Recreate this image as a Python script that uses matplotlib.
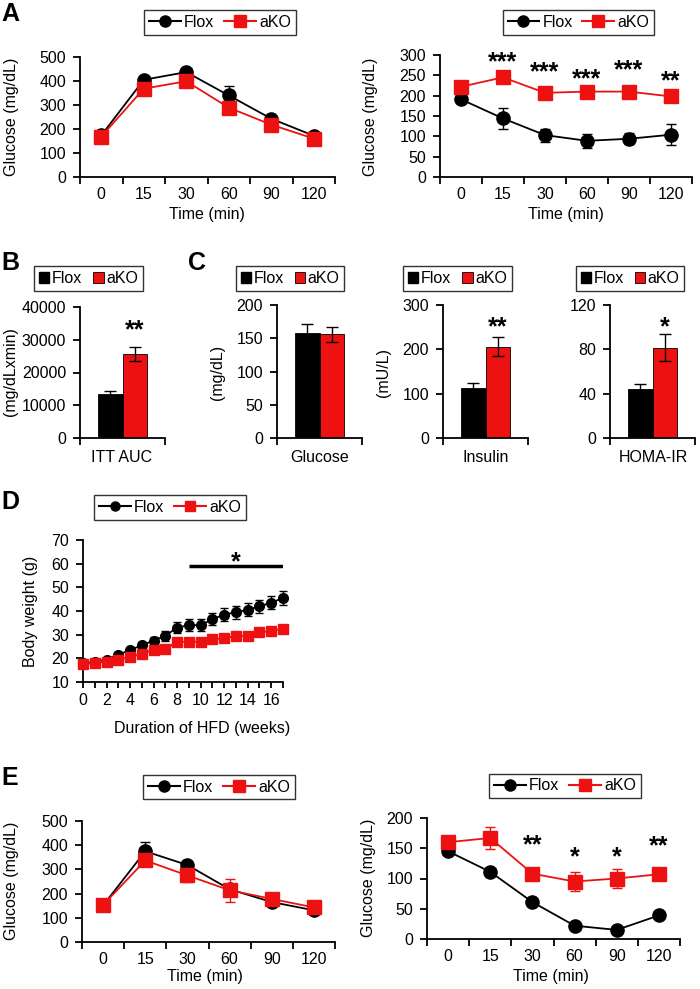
import numpy as np
import matplotlib
matplotlib.use("Agg")
import matplotlib.pyplot as plt
from matplotlib.lines import Line2D
from matplotlib.patches import Patch

plt.rcParams['font.family'] = ['Liberation Sans', 'DejaVu Sans']
plt.rcParams['font.size'] = 11.5

RED = '#ee1111'
BLACK = '#000000'

# ---------------- data ----------------
time_labels = ['0', '15', '30', '60', '90', '120']

# A left (GTT)
a_gtt_flox = [173, 405, 437, 340, 243, 172]
a_gtt_flox_err = [10, 10, 15, 38, 12, 10]
a_gtt_ako = [168, 368, 399, 289, 218, 160]
a_gtt_ako_err = [10, 15, 20, 25, 12, 10]

# A right (ITT)
a_itt_flox = [191, 144, 103, 89, 94, 104]
a_itt_flox_err = [8, 25, 16, 17, 14, 26]
a_itt_ako = [222, 245, 207, 210, 210, 198]
a_itt_ako_err = [8, 8, 8, 8, 8, 8]
a_itt_stars = ['', '***', '***', '***', '***', '**']
a_itt_star_y = [0, 296, 271, 253, 275, 248]

# B (ITT AUC)
b_labels = ['ITT AUC']
b_flox = [13400]
b_flox_err = [1000]
b_ako = [25700]
b_ako_err = [2200]
b_star = '**'
b_star_y = 34500

# C
c_labels = ['Glucose', 'Insulin', 'HOMA-IR']
c_flox = [158, 113, 44.2]
c_flox_err = [13, 10, 4.5]
c_ako = [156, 206, 81.5]
c_ako_err = [11, 21, 12]
c_stars = ['', '**', '*']
c_star_y = [0, 262, 105]
c_ylims = [200, 300, 120]
c_yticks = [[0, 50, 100, 150, 200], [0, 100, 200, 300], [0, 40, 80, 120]]
c_ylabels = ['(mg/dL)', '(mU/L)', '']

# D (body weight)
d_weeks = list(range(18))
d_flox = [18, 18.5, 19.5, 21.5, 23.5, 25.5, 27.5, 29.5, 33, 34, 34, 36.5,
          38.5, 39.5, 40.5, 42, 43.5, 45.5]
d_flox_err = [0.8, 0.8, 0.8, 1, 1, 1.2, 1.5, 2, 2.5, 2.5, 2.5, 2.5,
              2.8, 2.8, 2.8, 2.8, 2.8, 2.8]
d_ako = [17.5, 18, 18.5, 19.5, 20.5, 22, 23.5, 24, 27, 27, 27, 28,
         28.5, 29.5, 29.5, 31, 31.5, 32.5]
d_ako_err = [0.8] * 18
d_sig_span = [9, 17]
d_sig_y = 59
d_star_y = 63

# E left (GTT)
e_gtt_flox = [151, 375, 318, 218, 165, 131]
e_gtt_flox_err = [10, 40, 15, 20, 10, 8]
e_gtt_ako = [153, 337, 275, 214, 178, 143]
e_gtt_ako_err = [15, 15, 28, 48, 12, 10]

# E right (ITT)
e_itt_flox = [145, 111, 61, 22, 15, 39]
e_itt_flox_err = [3, 3, 3, 3, 3, 3]
e_itt_ako = [160, 167, 108, 95, 100, 107]
e_itt_ako_err = [8, 18, 8, 16, 16, 8]
e_itt_stars = ['', '', '**', '*', '*', '**']
e_itt_star_y = [0, 0, 164, 145, 145, 163]

# ---------------- layout helpers ----------------
W, H = 700, 989
fig = plt.figure(figsize=(W / 100, H / 100), dpi=100)


def ax_px(l, t, r, b):
    return fig.add_axes([l / W, 1 - b / H, (r - l) / W, (b - t) / H])


def style(ax):
    for s in ['top', 'right']:
        ax.spines[s].set_visible(False)
    for s in ['left', 'bottom']:
        ax.spines[s].set_linewidth(1.3)
    ax.tick_params(axis='y', direction='out', length=5, width=1.3, pad=5,
                   labelsize=11.5)
    ax.set_facecolor('none')


def cat_axis(ax, labels):
    n = len(labels)
    ax.set_xlim(-0.5, n - 0.5)
    ax.set_xticks(np.arange(-0.5, n, 1.0))
    ax.set_xticklabels([''] * (n + 1))
    ax.set_xticks(np.arange(n), minor=True)
    ax.set_xticklabels(labels, minor=True)
    ax.tick_params(axis='x', which='major', direction='out', length=5,
                   width=1.3)
    ax.tick_params(axis='x', which='minor', length=0, pad=7, labelsize=11.5)


def fig_text(x, y, s, **kw):
    fig.text(x / W, 1 - y / H, s, **kw)


def line_legend(cx, cy, ms=8):
    h = [Line2D([], [], color=BLACK, marker='o', ms=ms, lw=1.5),
         Line2D([], [], color=RED, marker='s', ms=ms, lw=1.5)]
    lg = fig.legend(h, ['Flox', 'aKO'], loc='center',
                    bbox_to_anchor=(cx / W, 1 - cy / H), ncol=2,
                    frameon=True, fancybox=False, fontsize=11.5,
                    handlelength=2.0, handletextpad=0.2, columnspacing=0.6,
                    borderpad=0.3, borderaxespad=0)
    lg.get_frame().set_edgecolor('black')
    lg.get_frame().set_linewidth(1.0)


def bar_legend(cx, cy):
    h = [Patch(facecolor=BLACK, edgecolor=BLACK),
         Patch(facecolor=RED, edgecolor=BLACK, linewidth=0.6)]
    lg = fig.legend(h, ['Flox', 'aKO'], loc='center',
                    bbox_to_anchor=(cx / W, 1 - cy / H), ncol=2,
                    frameon=True, fancybox=False, fontsize=11.5,
                    handlelength=0.65, handleheight=0.65,
                    handletextpad=0.15, columnspacing=0.7,
                    borderpad=0.3, borderaxespad=0)
    lg.get_frame().set_edgecolor('black')
    lg.get_frame().set_linewidth(1.0)


def star(ax, x, y, s):
    ax.annotate(s, (x, y), xytext=(0, -4), textcoords='offset points',
                ha='center', va='center', fontsize=18, fontweight='bold')


def line_panel(ax, flox, flox_err, ako, ako_err, ms=9.5):
    x = np.arange(len(flox))
    ax.errorbar(x, flox, yerr=flox_err, color=BLACK, marker='o', ms=ms,
                lw=1.3, capsize=3.5, elinewidth=1.0, capthick=1.0,
                clip_on=False, zorder=3)
    ax.errorbar(x, ako, yerr=ako_err, color=RED, marker='s', ms=ms,
                lw=1.3, capsize=3.5, elinewidth=1.0, capthick=1.0,
                clip_on=False, zorder=4)


# ---------------- Panel A left ----------------
ax = ax_px(80, 57, 335, 177)
style(ax)
line_panel(ax, a_gtt_flox, a_gtt_flox_err, a_gtt_ako, a_gtt_ako_err)
cat_axis(ax, time_labels)
ax.set_ylim(0, 500)
ax.set_yticks([0, 100, 200, 300, 400, 500])
fig_text(12, 117, 'Glucose (mg/dL)', rotation=90, ha='center', va='center')
fig_text(207, 215, 'Time (min)', ha='center', va='center')
line_legend(220, 22.5)
fig_text(1, 2, 'A', fontsize=18, fontweight='bold', ha='left', va='top')

# ---------------- Panel A right ----------------
ax = ax_px(440, 55, 692, 177)
style(ax)
line_panel(ax, a_itt_flox, a_itt_flox_err, a_itt_ako, a_itt_ako_err)
cat_axis(ax, time_labels)
ax.set_ylim(0, 300)
ax.set_yticks([0, 50, 100, 150, 200, 250, 300])
for i, (s, y) in enumerate(zip(a_itt_stars, a_itt_star_y)):
    if s:
        star(ax, i, y, s)
fig_text(370, 117, 'Glucose (mg/dL)', rotation=90, ha='center', va='center')
fig_text(566, 215, 'Time (min)', ha='center', va='center')
line_legend(578.5, 22.5)

# ---------------- Panel B ----------------
bw = 0.29
ax = ax_px(80, 307, 165, 438)
style(ax)
ax.bar([-bw / 2], b_flox, width=bw, color=BLACK, edgecolor=BLACK, lw=0.6)
ax.bar([bw / 2], b_ako, width=bw, color=RED, edgecolor=BLACK, lw=0.6)
ax.errorbar([-bw / 2], b_flox, yerr=b_flox_err, fmt='none', ecolor=BLACK,
            capsize=4, elinewidth=1.0, capthick=1.0)
ax.errorbar([bw / 2], b_ako, yerr=b_ako_err, fmt='none', ecolor=BLACK,
            capsize=4, elinewidth=1.0, capthick=1.0)
ax.set_xlim(-0.5, 0.5)
ax.set_xticks([-0.5, 0.5])
ax.set_xticklabels(['', ''])
ax.tick_params(axis='x', direction='out', length=5, width=1.3)
ax.set_ylim(0, 40000)
ax.set_yticks([0, 10000, 20000, 30000, 40000])
star(ax, bw / 2, b_star_y, b_star)
fig_text(11, 372, '(mg/dLxmin)', rotation=90, ha='center', va='center')
fig_text(122, 457, b_labels[0], ha='center', va='center')
bar_legend(88.5, 278.5)
fig_text(1, 251, 'B', fontsize=18, fontweight='bold', ha='left', va='top')

# ---------------- Panel C ----------------
c_left = [277, 443, 610]
c_ylab_x = [217, 383, 0]
c_leg_x = [290, 457.5, 630]
for i in range(3):
    l = c_left[i]
    ax = ax_px(l, 305, l + 85, 438)
    style(ax)
    ax.bar([-bw / 2], [c_flox[i]], width=bw, color=BLACK, edgecolor=BLACK,
           lw=0.6)
    ax.bar([bw / 2], [c_ako[i]], width=bw, color=RED, edgecolor=BLACK,
           lw=0.6)
    ax.errorbar([-bw / 2], [c_flox[i]], yerr=[c_flox_err[i]], fmt='none',
                ecolor=BLACK, capsize=4, elinewidth=1.0, capthick=1.0)
    ax.errorbar([bw / 2], [c_ako[i]], yerr=[c_ako_err[i]], fmt='none',
                ecolor=BLACK, capsize=4, elinewidth=1.0, capthick=1.0)
    ax.set_xlim(-0.5, 0.5)
    ax.set_xticks([-0.5, 0.5])
    ax.set_xticklabels(['', ''])
    ax.tick_params(axis='x', direction='out', length=5, width=1.3)
    ax.set_ylim(0, c_ylims[i])
    ax.set_yticks(c_yticks[i])
    if c_stars[i]:
        star(ax, bw / 2, c_star_y[i], c_stars[i])
    if c_ylabels[i]:
        fig_text(c_ylab_x[i], 372, c_ylabels[i], rotation=90, ha='center',
                 va='center')
    fig_text(l + 43, 457, c_labels[i], ha='center', va='center')
    bar_legend(c_leg_x[i], 278.5)
fig_text(188, 251, 'C', fontsize=18, fontweight='bold', ha='left', va='top')

# ---------------- Panel D ----------------
ax = ax_px(83, 540, 283, 682)
style(ax)
ax.errorbar(d_weeks, d_flox, yerr=d_flox_err, color=BLACK, marker='o',
            ms=7, lw=1.3, capsize=3, elinewidth=1.0, capthick=1.0,
            clip_on=False, zorder=3)
ax.errorbar(d_weeks, d_ako, yerr=d_ako_err, color=RED, marker='s',
            ms=7, lw=1.3, capsize=3, elinewidth=1.0, capthick=1.0,
            clip_on=False, zorder=4)
ax.plot(d_sig_span, [d_sig_y, d_sig_y], color=BLACK, lw=2.5,
        solid_capstyle='butt')
star(ax, np.mean(d_sig_span), d_star_y, '*')
ax.set_xlim(0, 17)
ax.set_xticks(range(0, 18))
ax.set_xticklabels([str(w) if w % 2 == 0 else '' for w in range(18)])
ax.tick_params(axis='x', direction='out', length=4, width=1.3, pad=4,
               labelsize=11.5)
ax.set_ylim(10, 70)
ax.set_yticks([10, 20, 30, 40, 50, 60, 70])
fig_text(31, 611, 'Body weight (g)', rotation=90, ha='center', va='center')
fig_text(202, 728, 'Duration of HFD (weeks)', ha='center', va='center')
line_legend(170, 507.5, ms=6.5)
fig_text(1, 490, 'D', fontsize=18, fontweight='bold', ha='left', va='top')

# ---------------- Panel E left ----------------
ax = ax_px(82, 821, 335, 942)
style(ax)
line_panel(ax, e_gtt_flox, e_gtt_flox_err, e_gtt_ako, e_gtt_ako_err)
cat_axis(ax, time_labels)
ax.set_ylim(0, 500)
ax.set_yticks([0, 100, 200, 300, 400, 500])
fig_text(12, 881, 'Glucose (mg/dL)', rotation=90, ha='center', va='center')
fig_text(205, 977, 'Time (min)', ha='center', va='center')
line_legend(219, 787)
fig_text(1, 766, 'E', fontsize=18, fontweight='bold', ha='left', va='top')

# ---------------- Panel E right ----------------
ax = ax_px(427, 818, 680, 939)
style(ax)
line_panel(ax, e_itt_flox, e_itt_flox_err, e_itt_ako, e_itt_ako_err)
cat_axis(ax, time_labels)
ax.set_ylim(0, 200)
ax.set_yticks([0, 50, 100, 150, 200])
for i, (s, y) in enumerate(zip(e_itt_stars, e_itt_star_y)):
    if s:
        star(ax, i, y, s)
fig_text(368, 878, 'Glucose (mg/dL)', rotation=90, ha='center', va='center')
fig_text(551, 977, 'Time (min)', ha='center', va='center')
line_legend(565, 786)

fig.savefig('out.png', dpi=100, facecolor='white')
